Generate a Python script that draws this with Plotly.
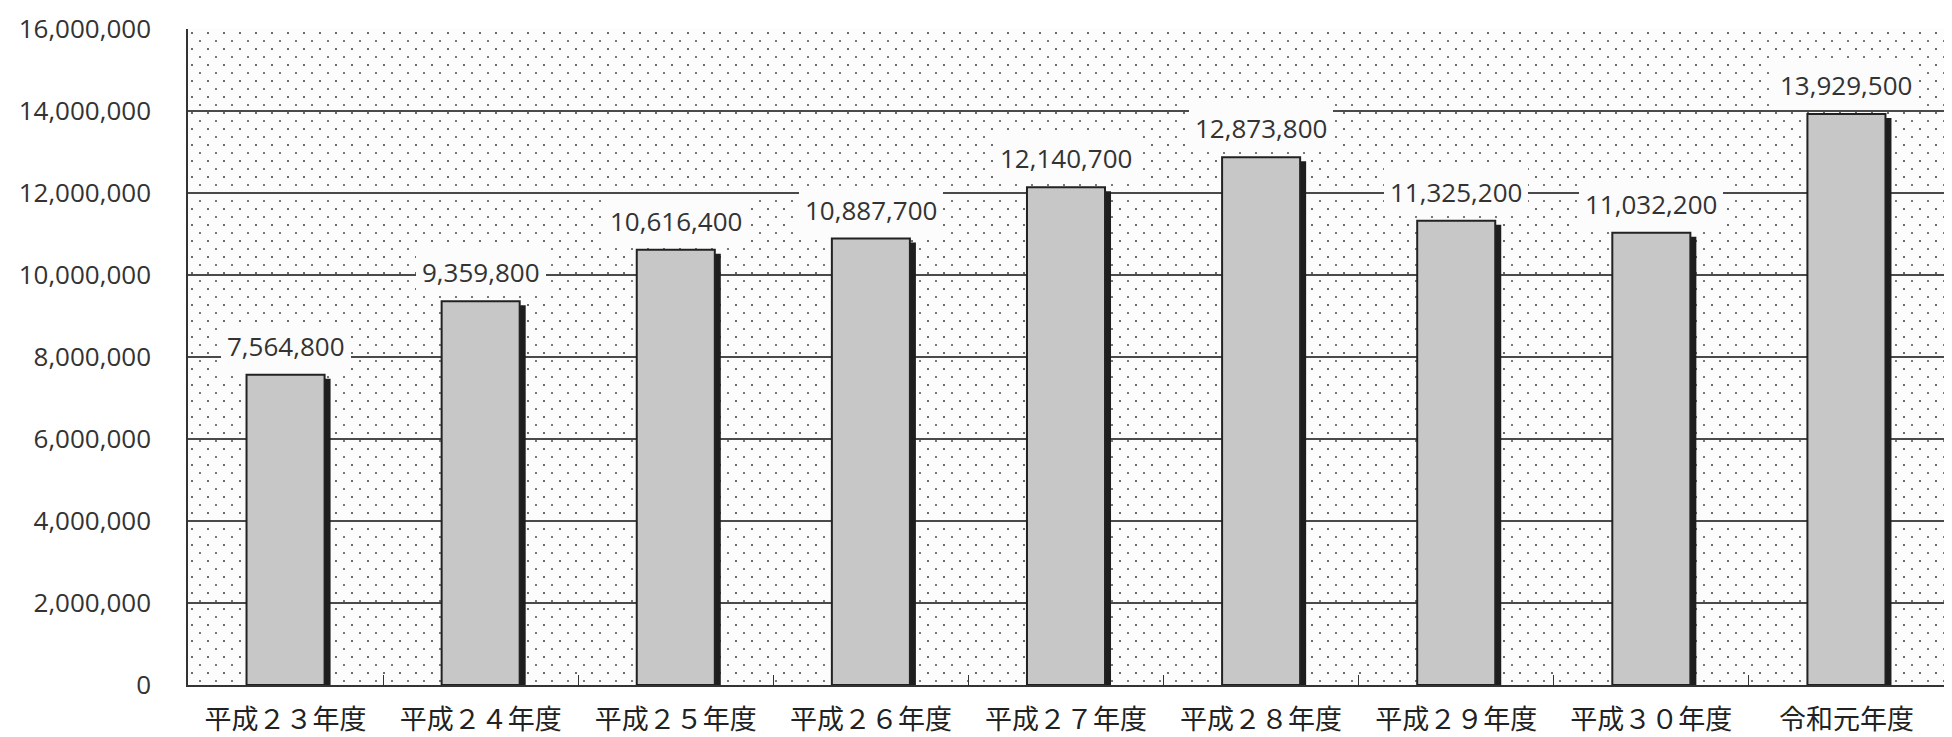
import base64
import plotly.graph_objects as go

categories = ["平成２３年度", "平成２４年度", "平成２５年度", "平成２６年度", "平成２７年度",
              "平成２８年度", "平成２９年度", "平成３０年度", "令和元年度"]
values = [7564800, 9359800, 10616400, 10887700, 12140700, 12873800, 11325200, 11032200, 13929500]
y_tickvals = [0, 2000000, 4000000, 6000000, 8000000, 10000000, 12000000, 14000000, 16000000]
y_ticktext = ["0", "2,000,000", "4,000,000", "6,000,000", "8,000,000", "10,000,000",
              "12,000,000", "14,000,000", "16,000,000"]

W, H = 1952, 737
ML, MR, MT, MB = 180, 16, 21, 60
PW, PH = W - ML - MR, H - MT - MB
YMAX = 16000000

# dotted background texture for the plot area
svg = f'''<svg xmlns="http://www.w3.org/2000/svg" width="{PW}" height="{PH}" viewBox="0 0 {PW} {PH}" preserveAspectRatio="none">
<defs><pattern id="p" width="16" height="16" patternUnits="userSpaceOnUse">
<circle cx="4" cy="4" r="1.1" fill="#4a4a4a"/><circle cx="12" cy="12" r="1.1" fill="#5a5a5a"/>
</pattern></defs>
<rect width="100%" height="100%" fill="#fcfcfc"/>
<rect width="100%" height="100%" fill="url(#p)"/></svg>'''
src = "data:image/svg+xml;base64," + base64.b64encode(svg.encode()).decode()

bw = 0.40
shadow_dx = 6 / (PW / len(categories))
shadow_dy = 4 * YMAX / PH

fig = go.Figure()
fig.add_trace(go.Bar(
    x=categories, y=[v - shadow_dy for v in values],
    width=bw, offset=-bw / 2 + shadow_dx,
    marker=dict(color="#1e1e1e", line=dict(width=0)),
    hoverinfo="skip", showlegend=False,
))
fig.add_trace(go.Bar(
    x=categories, y=values,
    width=bw, offset=-bw / 2,
    marker=dict(color="#c7c7c7", line=dict(color="#222", width=2)),
    showlegend=False,
))

for c, v in zip(categories, values):
    fig.add_annotation(
        x=c, y=v, xref="x", yref="y", text=f"{v:,}", showarrow=False,
        yanchor="bottom", yshift=5, bgcolor="#fcfcfc", borderpad=6, borderwidth=0,
        font=dict(family="Open Sans", size=26, color="#333"),
    )

fig.add_layout_image(dict(
    source=src, xref="paper", yref="paper", x=0, y=1, sizex=1, sizey=1,
    sizing="stretch", xanchor="left", yanchor="top", layer="below",
))

fig.update_layout(
    width=W, height=H, template="none",
    margin=dict(l=ML, r=MR, t=MT, b=MB, autoexpand=False),
    paper_bgcolor="white", plot_bgcolor="white",
    barmode="overlay", bargap=0.6,
    xaxis=dict(
        showline=True, linecolor="#333", linewidth=2, mirror=False,
        ticks="inside", tickson="boundaries", ticklen=10, tickcolor="#333", tickwidth=1,
        showgrid=False, automargin=False, ticklabelstandoff=10,
        tickfont=dict(family="Noto Sans CJK JP", size=27, color="#222"),
    ),
    yaxis=dict(
        range=[0, YMAX], tickvals=y_tickvals, ticktext=y_ticktext,
        showline=True, linecolor="#333", linewidth=1.5,
        ticks="", showgrid=True, gridcolor="#4a4a4a", gridwidth=1.5,
        zeroline=False, automargin=False, ticklabelstandoff=30,
        tickfont=dict(family="Open Sans", size=26, color="#333"),
    ),
)

fig.write_html("out.html")
